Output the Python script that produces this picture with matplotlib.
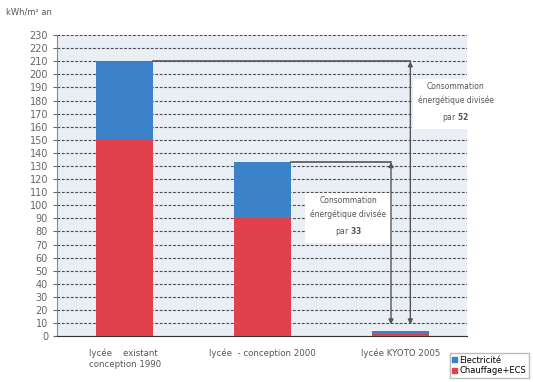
import numpy as np
import matplotlib
matplotlib.use("Agg")
import matplotlib.pyplot as plt
from matplotlib.patches import Patch

# consumption per building type, kWh/m² an
labels = ["lycée    existant\nconception 1990", "lycée  - conception 2000", "lycée KYOTO 2005"]
chauffage = [150, 90, 2]
electricite = [60, 43, 2]
facteurs = [52, 33]

blue = "#3b82c8"
red = "#e0414c"
grey = "#555555"

fig = plt.figure(figsize=(5.33, 3.82), dpi=100)
ax = fig.add_axes([0.107, 0.120, 0.769, 0.788])
ax.set_facecolor("#eaeff6")

x = np.arange(len(labels))
w = 0.41
tot = np.array(chauffage) + np.array(electricite)
ax.bar(x, chauffage, w, color=red, zorder=3)
ax.bar(x, electricite, w, bottom=chauffage, color=blue, zorder=3)

ax.set_xlim(-0.49, 2.48)
ax.set_ylim(0, 230)
ax.set_yticks(np.arange(0, 231, 10))
ax.yaxis.grid(True, ls=(0, (2.5, 1.5)), color="#4a4a4a", lw=0.8, zorder=1)
ax.tick_params(axis="y", labelsize=7, colors="#666666", length=3)
ax.tick_params(axis="x", length=0, labelsize=6.2, labelcolor="#555555", pad=9)
ax.set_xticks(x)
ax.set_xticklabels(labels, multialignment="left")
for s in ["top", "right"]:
    ax.spines[s].set_visible(False)
ax.spines["left"].set_color("#888888")
ax.spines["bottom"].set_color("#333333")

# reduction arrows
xa = [2.07, 1.93]
ymin = 9
for i, (xr, f) in enumerate(zip(xa, facteurs)):
    ax.plot([i + w / 2, xr], [tot[i], tot[i]], color=grey, lw=1.2, zorder=4)
    ax.annotate("", xy=(xr, ymin), xytext=(xr, tot[i]),
                arrowprops=dict(arrowstyle="<|-|>", color=grey, lw=1.0,
                                mutation_scale=7, shrinkA=0, shrinkB=0), zorder=4)

box = dict(boxstyle="square,pad=0.7", fc="white", ec="none")
ax.text(2.40, 178, "Consommation\nénergétique divisée\npar $\\mathbf{52}$", fontsize=5.5,
        ha="center", va="center", color="#555555", linespacing=1.6, zorder=5,
        bbox=box, clip_on=False)
ax.text(1.62, 91, "Consommation\nénergétique divisée\npar $\\mathbf{33}$", fontsize=5.5,
        ha="center", va="center", color="#555555", linespacing=1.6, zorder=3.5,
        bbox=box)

fig.text(0.012, 0.962, "kWh/m² an", fontsize=6, color="#555555")

handles = [Patch(color=blue, label="Electricité"), Patch(color=red, label="Chauffage+ECS")]
fig.legend(handles=handles, loc="lower right", bbox_to_anchor=(1.0, 0.0), fontsize=6,
           frameon=True, fancybox=False, edgecolor="#aaaaaa", handlelength=0.6,
           handleheight=0.6, handletextpad=0.3, borderpad=0.3, labelspacing=0.2)

fig.savefig("out.png", dpi=100)
